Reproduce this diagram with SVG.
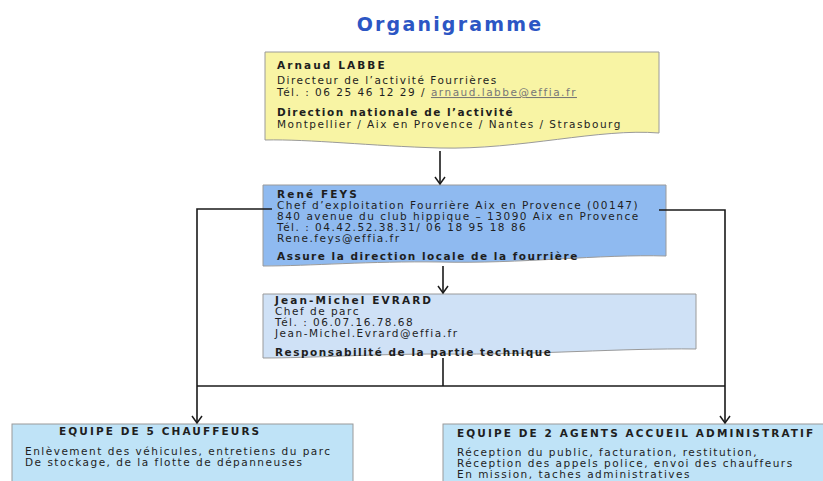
<svg xmlns="http://www.w3.org/2000/svg" width="823" height="481" viewBox="0 0 823 481">
<defs>
<style>
text{font-family:"DejaVu Sans","Verdana",sans-serif;font-size:10.5px;fill:#1e1e1e;letter-spacing:1.5px}
.b{font-weight:bold;letter-spacing:1.5px}
.h{font-weight:bold;letter-spacing:2.1px}
.title{font-size:19px;font-weight:bold;fill:#2c56c4;letter-spacing:2.2px}
.box{stroke:#9a9a9a;stroke-width:1}
.con{fill:none;stroke:#1a1a1a;stroke-width:1.6}
.link{fill:#777;text-decoration:underline}
</style>
<marker id="arr" viewBox="0 0 12 12" refX="10" refY="6" markerWidth="12" markerHeight="12" markerUnits="userSpaceOnUse" orient="auto">
<path d="M3,1 L10,6 L3,11" fill="none" stroke="#1a1a1a" stroke-width="1.5"/>
</marker>
</defs>
<rect width="823" height="481" fill="#ffffff"/>
<text class="title" x="450" y="31" text-anchor="middle">Organigramme</text>

<g id="n-labbe">
<path class="box" fill="#f8f4a4" d="M265,52 H659 V133 C600,128 520,150 440,148 C370,146 310,139 265,140 Z"/>
<text class="h" x="277" y="69">Arnaud LABBE</text>
<text x="277" y="84">Directeur de l’activité Fourrières</text>
<text x="277" y="96">Tél. : 06 25 46 12 29 / <tspan class="link">arnaud.labbe@effia.fr</tspan></text>
<text class="b" x="277" y="116">Direction nationale de l’activité</text>
<text x="277" y="128">Montpellier / Aix en Provence / Nantes / Strasbourg</text>
</g>

<g id="n-feys">
<path class="box" fill="#8fbaf0" d="M263,185 H666 V256 C600,254 520,264 440,262 C370,261 310,266 263,266 Z"/>
<text class="h" x="277" y="198">René FEYS</text>
<text x="277" y="209">Chef d’exploitation Fourrière Aix en Provence (00147)</text>
<text x="277" y="220">840 avenue du club hippique – 13090 Aix en Provence</text>
<text x="277" y="231">Tél. : 04.42.52.38.31/ 06 18 95 18 86</text>
<text x="277" y="242">Rene.feys@effia.fr</text>
<text class="b" x="277" y="260">Assure la direction locale de la fourrière</text>
</g>

<g id="n-evrard">
<path class="box" fill="#cfe1f6" d="M263,294 H696 V349 C620,348 540,355 440,354 C370,354 310,358 263,358 Z"/>
<text class="h" x="275" y="304">Jean-Michel EVRARD</text>
<text x="275" y="315">Chef de parc</text>
<text x="275" y="326">Tél. :  06.07.16.78.68</text>
<text x="275" y="337">Jean-Michel.Evrard@effia.fr</text>
<text class="b" x="275" y="356">Responsabilité de la partie technique</text>
</g>

<g id="n-chauffeurs">
<rect class="box" fill="#bfe3f7" x="12" y="424" width="341" height="70"/>
<text class="h" x="59" y="435">EQUIPE DE 5 CHAUFFEURS</text>
<text x="25" y="455">Enlèvement des véhicules, entretiens du parc</text>
<text x="25" y="466">De stockage, de la flotte de dépanneuses</text>
</g>

<g id="n-agents">
<rect class="box" fill="#bfe3f7" x="443" y="424" width="400" height="70"/>
<text class="h" x="457" y="437">EQUIPE DE 2 AGENTS ACCUEIL ADMINISTRATIF</text>
<text x="457" y="456">Réception du public, facturation, restitution,</text>
<text x="457" y="467">Réception des appels police, envoi des chauffeurs</text>
<text x="457" y="478">En mission, taches administratives</text>
</g>

<g id="connectors">
<line class="con" x1="440" y1="151" x2="440" y2="184" marker-end="url(#arr)"/>
<line class="con" x1="443" y1="266" x2="443" y2="293" marker-end="url(#arr)"/>
<line class="con" x1="443" y1="358" x2="443" y2="386"/>
<line class="con" x1="197" y1="386" x2="725" y2="386"/>
<polyline class="con" points="272,209 197,209 197,423" marker-end="url(#arr)"/>
<polyline class="con" points="659,210 725,210 725,423" marker-end="url(#arr)"/>
</g>
</svg>
